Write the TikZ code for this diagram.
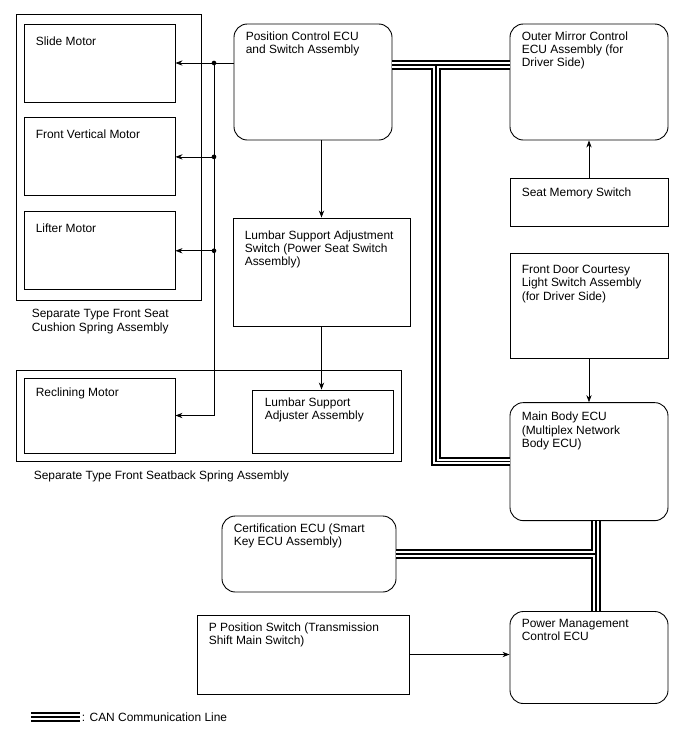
\documentclass[tikz,border=0pt]{standalone}
\usepackage{fontspec}
\setmainfont{Liberation Sans}
\usetikzlibrary{positioning,arrows.meta}

% the three strokes of the CAN line all follow this path
\newcommand{\canpath}{(pce.east |- canA) -- (omc.west |- canA)
  (canA) -- (canA |- mbe.west) -- (mbe.west)
  (mbe.south -| canB) -- (pmc.north -| canB)
  (cert.east) -- (cert.east -| canB)
  (legA) -- (legB)}

\begin{document}
\begin{tikzpicture}[node distance=1cm,>={Stealth[length=6pt,width=4.5pt]},font=\fontsize{10.2}{11.4}\selectfont]
\tikzstyle{box}=[draw,line width=0.75pt,minimum width=4.74cm,inner sep=0pt]
\tikzstyle{ecu}=[box,rounded corners=0.4cm]
\tikzstyle{wire}=[line width=0.6pt]
\tikzstyle{can}=[line width=7.7pt]
\tikzstyle{canw}=[line width=4.8pt,white]
\tikzstyle{canm}=[line width=1.1pt]
\tikzstyle{dot}=[circle,fill,inner sep=0pt,minimum size=4pt]
\tikzset{tl/.style={anchor=north west,inner sep=0pt,align=left,xshift=0.36cm,yshift=#1},tl/.default=-0.23cm,
  cap/.style={anchor=north west,inner sep=0pt,align=left,xshift=#1,yshift=-0.26cm}}
\useasboundingbox (0,0) rectangle (20.64,-22.65);
% seat cushion
\node[box,minimum width=5.55cm,minimum height=8.58cm,label={[cap=0.48cm]south west:{Separate Type Front Seat\\Cushion Spring Assembly}}] (cushion) at (3.255,-4.71) {};
\node[box,minimum width=4.53cm,minimum height=2.34cm,label={[tl=-0.38cm]north west:Slide Motor}] (slide) at (2.985,-1.89) {};
\node[box,minimum width=4.53cm,minimum height=2.34cm,below=0.45cm of slide,label={[tl=-0.35cm]north west:Front Vertical Motor}] (fvm) {};
\node[box,minimum width=4.53cm,minimum height=2.34cm,below=0.45cm of fvm,label={[tl=-0.38cm]north west:Lifter Motor}] (lifter) {};
% seatback
\node[box,minimum width=11.55cm,minimum height=2.73cm,label={[cap=0.54cm]south west:Separate Type Front Seatback Spring Assembly}] (back) at (6.255,-12.465) {};
\node[box,minimum width=4.53cm,minimum height=2.25cm,label={[tl=-0.29cm]north west:Reclining Motor}] (rcm) at (2.985,-12.465) {};
\node[box,minimum width=4.23cm,minimum height=1.89cm,label={[tl,xshift=0.03cm]north west:{Lumbar Support\\Adjuster Assembly}}] (lsa) at (9.675,-12.645) {};
% middle column
\node[ecu,minimum height=3.48cm,label={[tl]north west:{Position Control ECU\\and Switch Assembly}}] (pce) at (9.39,-2.46) {};
\node[box,minimum width=5.31cm,minimum height=3.24cm,label={[tl=-0.38cm]north west:{Lumbar Support Adjustment\\Switch (Power Seat Switch\\Assembly)}}] (lsw) at (9.645,-8.16) {};
\node[ecu,minimum width=5.22cm,minimum height=2.28cm,label={[tl]north west:{Certification ECU (Smart\\Key ECU Assembly)}}] (cert) at (9.27,-16.62) {};
\node[box,minimum width=6.36cm,minimum height=2.37cm,label={[tl]north west:{P Position Switch (Transmission\\Shift Main Switch)}}] (pps) at (9.09,-19.635) {};
% right column
\node[ecu,minimum height=3.48cm,label={[tl]north west:{Outer Mirror Control\\ECU Assembly (for\\Driver Side)}}] (omc) at (17.67,-2.46) {};
\node[box,minimum height=1.44cm,below=1.14cm of omc,label={[tl=-0.26cm]north west:Seat Memory Switch}] (sms) {};
\node[box,minimum height=3.15cm,below=0.78cm of sms,label={[tl=-0.35cm]north west:{Front Door Courtesy\\Light Switch Assembly\\(for Driver Side)}}] (fdc) {};
\node[ecu,minimum height=3.54cm,below=1.29cm of fdc,label={[tl=-0.29cm]north west:{Main Body ECU\\(Multiplex Network\\Body ECU)}}] (mbe) {};
\node[ecu,minimum height=2.76cm,below=2.7cm of mbe,label={[tl]north west:{Power Management\\Control ECU}}] (pmc) {};
% motor bus
\coordinate (bus) at (6.42,0);
\draw[wire,->] (pce.west |- slide.east) -- (slide.east);
\draw[wire] (bus |- slide.east) -- (bus |- rcm.east);
\foreach \m in {fvm,lifter,rcm} \draw[wire,->] (bus |- \m.east) -- (\m.east);
\foreach \m in {slide,fvm,lifter} \node[dot] (dot-\m) at (bus |- \m.east) {};
% other wires
\draw[wire,->] (pce.south -| lsw.north) -- (lsw.north);
\draw[wire,->] (lsw.south) -- (lsw.south |- lsa.north);
\draw[wire,->] (sms.north) -- (omc.south);
\draw[wire,->] (fdc.south) -- (mbe.north);
\draw[wire,->] (pps.east) -- (pps.east -| pmc.west);
% CAN
\coordinate (canA) at (13.08,-1.95);
\coordinate (canB) at (17.88,0);
\coordinate (legA) at (0.93,-21.51);
\coordinate (legB) at (2.40,-21.51);
\foreach \s in {can,canw,canm} \draw[\s] \canpath;
\node[anchor=west,inner sep=0pt] (legtext) at ([xshift=0.05cm]legB) {: CAN Communication Line};
\end{tikzpicture}
\end{document}
